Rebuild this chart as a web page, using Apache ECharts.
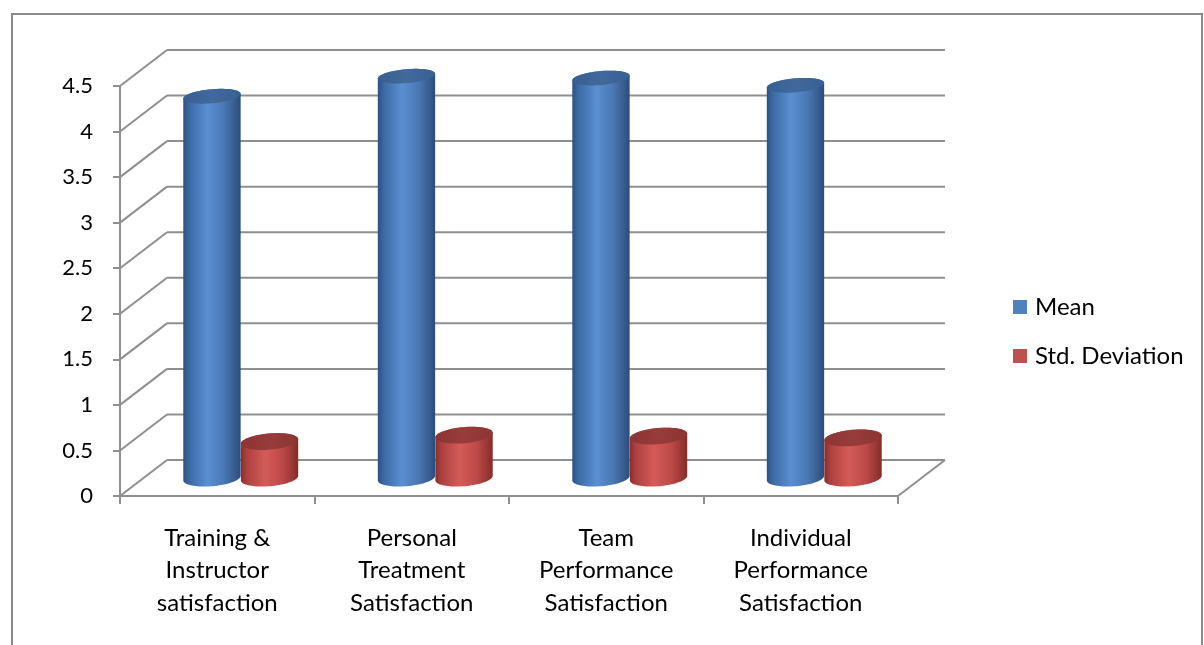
<!DOCTYPE html>
<html>
<head>
<meta charset="utf-8">
<title>Satisfaction – Mean and Std. Deviation</title>
<script src="https://cdn.jsdelivr.net/npm/echarts@6/dist/echarts.min.js"></script>
<style>
  html, body { margin: 0; padding: 0; background: #ffffff; }
  #chart { width: 1204px; height: 645px; }
</style>
</head>
<body>
<div id="chart"></div>
<script>
// ---- data ----
const categories = [
  'Training &\nInstructor\nsatisfaction',
  'Personal\nTreatment\nSatisfaction',
  'Team\nPerformance\nSatisfaction',
  'Individual\nPerformance\nSatisfaction'
];
const meanValues = [4.19, 4.41, 4.39, 4.31];
const stdValues = [0.40, 0.47, 0.46, 0.44];
const yTickValues = [0, 0.5, 1, 1.5, 2, 2.5, 3, 3.5, 4, 4.5];
const seriesNames = ['Mean', 'Std. Deviation'];

// ---- styling ----
const FONT = 'Lato, "Noto Sans", sans-serif';
const GRID_COLOR = '#8f8f8f';
const DX = 47;   // depth offset of the back wall, x
const DY = 36;   // depth offset of the back wall, y
const BAR_RATIO = 0.296; // cylinder width relative to category band
const TILT = -5 * Math.PI / 180;

const palettes = {
  blue: {
    legend: '#4F81BD',
    body: [
      [0, '#2d5183'], [0.1, '#3b69a3'], [0.42, '#5a8fd2'],
      [0.72, '#4977b3'], [0.92, '#35598c'], [1, '#2b4c7c']
    ],
    cap: [[0, '#385f92'], [0.5, '#41699c'], [1, '#3a6093']]
  },
  red: {
    legend: '#C0504D',
    body: [
      [0, '#8a2c2a'], [0.1, '#ab403e'], [0.42, '#d45b58'],
      [0.72, '#bd4a48'], [0.92, '#963533'], [1, '#842b29']
    ],
    cap: [[0, '#8c3533'], [0.5, '#973c3a'], [1, '#8d3533']]
  }
};

function ellipsePoints(cx, cy, rx, ry, rot, t0, t1, n) {
  const pts = [];
  const c = Math.cos(rot), s = Math.sin(rot);
  for (let k = 0; k <= n; k++) {
    const t = t0 + (t1 - t0) * k / n;
    const ex = rx * Math.cos(t), ey = ry * Math.sin(t);
    pts.push([cx + ex * c - ey * s, cy + ex * s + ey * c]);
  }
  return pts;
}

function gradient(stops) {
  return new echarts.graphic.LinearGradient(0, 0, 1, 0,
    stops.map(s => ({ offset: s[0], color: s[1] })));
}

// Back wall and floor grid drawn in oblique projection from the value axis
function renderWall(params, api) {
  const cs = params.coordSys;
  const v = api.value(1);
  const y = api.coord([0, v])[1];
  const x0 = cs.x, x1 = cs.x + cs.width;
  const segs = [
    [x0, y, x0 + DX, y - DY],
    [x0 + DX, y - DY, x1 + DX, y - DY]
  ];
  if (v === yTickValues[0]) segs.push([x1, y, x1 + DX, y - DY]);
  return {
    type: 'group',
    silent: true,
    children: segs.map(s => ({
      type: 'line',
      shape: { x1: s[0], y1: s[1], x2: s[2], y2: s[3] },
      style: { stroke: GRID_COLOR, lineWidth: 2 }
    }))
  };
}

function cylinderRenderer(side, pal) {
  return function (params, api) {
    const idx = api.value(0);
    const v = api.value(1);
    const band = api.size([1, 0])[0];
    const w = band * BAR_RATIO;
    const base = api.coord([idx, 0]);
    const top = api.coord([idx, v]);
    const cx = base[0] + DX / 2 + side * w / 2;
    const yb = base[1] - DY / 2;
    const yt = top[1] - DY / 2;
    const rx = w / 2;
    const ryOf = y => 7 + 1.2 * (y - 90) / (480 - 90);
    const ryb = ryOf(yb), ryt = ryOf(yt);

    const lower = ellipsePoints(cx, yb, rx, ryb, TILT, 0, Math.PI, 40);
    const upper = ellipsePoints(cx, yt, rx, ryt, TILT, Math.PI, 2 * Math.PI, 40);
    const body = lower.concat(upper);
    const cap = ellipsePoints(cx, yt, rx, ryt, TILT, 0, 2 * Math.PI, 60);

    return {
      type: 'group',
      children: [
        { type: 'polygon', shape: { points: body }, style: { fill: gradient(pal.body) } },
        { type: 'polygon', shape: { points: cap }, style: { fill: gradient(pal.cap) } }
      ]
    };
  };
}

const chart = echarts.init(document.getElementById('chart'), null, { renderer: 'canvas' });

chart.setOption({
  backgroundColor: '#ffffff',
  animation: false,
  textStyle: { fontFamily: FONT },
  graphic: [{
    type: 'rect',
    silent: true,
    shape: { x: 12, y: 14, width: 1190, height: 645 },
    style: { fill: 'none', stroke: '#8a8a8a', lineWidth: 2 },
    z: -10
  }],
  grid: { left: 120, right: 306, top: 86, bottom: 149 },
  legend: {
    data: seriesNames,
    orient: 'vertical',
    left: 1013,
    top: 295,
    padding: 0,
    itemWidth: 14,
    itemHeight: 14,
    itemGap: 25,
    icon: 'rect',
    textStyle: { fontFamily: FONT, fontSize: 24, lineHeight: 24, color: '#000', padding: [0, 0, 0, 3] }
  },
  xAxis: {
    type: 'category',
    data: categories,
    boundaryGap: true,
    axisLine: { lineStyle: { color: GRID_COLOR, width: 2 } },
    axisTick: { show: true, length: 8, lineStyle: { color: GRID_COLOR, width: 2 } },
    axisLabel: {
      interval: 0, margin: 26, fontFamily: FONT, fontSize: 24, lineHeight: 32.5,
      color: '#000', align: 'center'
    },
    splitLine: { show: false }
  },
  yAxis: {
    type: 'value',
    min: 0,
    max: 4.5,
    interval: 0.5,
    axisLine: { show: true, lineStyle: { color: GRID_COLOR, width: 2 } },
    axisTick: { show: true, length: 7, lineStyle: { color: GRID_COLOR, width: 2 } },
    axisLabel: { margin: 27, fontFamily: FONT, fontSize: 22, color: '#000' },
    splitLine: { show: false }
  },
  series: [
    {
      name: 'wall',
      type: 'custom',
      silent: true,
      z: 1,
      renderItem: renderWall,
      encode: { x: 0, y: 1 },
      data: yTickValues.map(v => [0, v])
    },
    {
      name: seriesNames[0],
      type: 'custom',
      z: 3,
      itemStyle: { color: palettes.blue.legend },
      renderItem: cylinderRenderer(-1, palettes.blue),
      encode: { x: 0, y: 1 },
      data: meanValues.map((v, i) => [i, v])
    },
    {
      name: seriesNames[1],
      type: 'custom',
      z: 4,
      itemStyle: { color: palettes.red.legend },
      renderItem: cylinderRenderer(1, palettes.red),
      encode: { x: 0, y: 1 },
      data: stdValues.map((v, i) => [i, v])
    }
  ]
});
</script>
</body>
</html>
